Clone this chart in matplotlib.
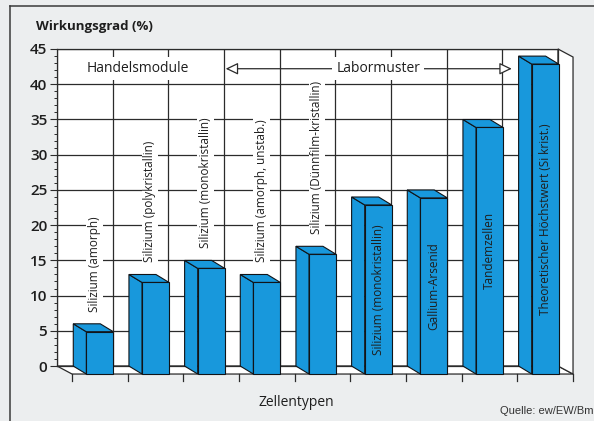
import matplotlib
matplotlib.use("Agg")
import matplotlib.pyplot as plt
from matplotlib.patches import Polygon
from matplotlib.ticker import MultipleLocator

# ---------------- data ----------------
categories = [
    "Silizium (amorph)",
    "Silizium (polykristallin)",
    "Silizium (monokristallin)",
    "Silizium (amorph, unstab.)",
    "Silizium (Dünnfilm-kristallin)",
    "Silizium (monokristallin)",
    "Gallium-Arsenid",
    "Tandemzellen",
    "Theoretischer Höchstwert (Si krist.)",
]
wirkungsgrad = [6, 13, 15, 13, 17, 24, 25, 35, 44]
y_ticks = [0, 5, 10, 15, 20, 25, 30, 35, 40, 45]
group_labels = ["Handelsmodule", "Labormuster"]
y_title = "Wirkungsgrad (%)"
x_title = "Zellentypen"
source_text = "Quelle: ew/EW/Bm"

# ---------------- style ----------------
plt.rcParams["font.family"] = ["Open Sans", "DejaVu Sans"]
PAPER = "#eceeef"
GRID = "#2b2b2b"
BLUE = "#1898dc"
EDGE = "#111418"
TXT = "#1e1e1e"

W, H = 594, 421
fig = plt.figure(figsize=(W / 100, H / 100), dpi=100)
fig.patch.set_facecolor(PAPER)

n = len(categories)
ymax = y_ticks[-1]
ax = fig.add_axes([57 / W, 55 / H, 501 / W, 317 / H])
ax.set_xlim(0, n)
ax.set_ylim(0, ymax)
ax.set_facecolor("white")
ax.set_axisbelow(True)
for s in ax.spines.values():
    s.set_color(GRID)
    s.set_linewidth(0.9)
ax.set_xticks(range(n + 1))
ax.tick_params(axis="x", length=0, labelbottom=False)
ax.set_yticks(y_ticks)
ax.yaxis.set_minor_locator(MultipleLocator(1))
ax.tick_params(axis="y", which="major", length=5, width=0.8, pad=2,
               labelsize=11, colors=GRID, labelcolor=TXT)
ax.tick_params(axis="y", which="minor", length=2.5, width=0.7, colors=GRID)
for lab in ax.get_yticklabels():
    lab.set_fontweight("semibold")
ax.grid(True, which="major", color=GRID, linewidth=0.9)

# oblique depth offsets (data units)
FX, FY = 0.27, 1.14       # floor depth
BX, BY = 0.235, 1.13      # bar depth
BW = 0.485                # bar width

# floor and right side wall
ax.add_patch(Polygon([(0, 0), (n, 0), (n + FX, -FY), (FX, -FY)], closed=True,
                     fc="white", ec=GRID, lw=0.9, clip_on=False, zorder=2))
ax.add_patch(Polygon([(n, 0), (n, ymax), (n + FX, ymax - FY), (n + FX, -FY)],
                     closed=True, fc="white", ec=GRID, lw=0.9, clip_on=False,
                     zorder=2))
for i in range(n + 1):
    ax.plot([i + FX, i + FX], [-FY, -FY - 1.0], color=GRID, lw=0.9,
            clip_on=False, zorder=2)

# bars
for i, (name, v) in enumerate(zip(categories, wirkungsgrad)):
    xl = i + FX + (1 - BW) / 2
    xr = xl + BW
    yb = -FY
    yt = v - FY
    side = [(xl, yb), (xl, yt), (xl - BX, yt + BY), (xl - BX, yb + BY)]
    top = [(xl, yt), (xr, yt), (xr - BX, yt + BY), (xl - BX, yt + BY)]
    front = [(xl, yb), (xr, yb), (xr, yt), (xl, yt)]
    for poly in (side, top, front):
        ax.add_patch(Polygon(poly, closed=True, fc=BLUE, ec=EDGE, lw=0.8,
                             clip_on=False, zorder=3, joinstyle="miter"))
    if v > 20:
        ax.text((xl + xr) / 2, (yb + yt) / 2, name, rotation=90,
                ha="center", va="center", fontsize=8.5, color=TXT, zorder=5)
    else:
        ax.text(i + 0.67, v + 1.7, name, rotation=90, ha="center",
                va="bottom", fontsize=8.5, color=TXT, zorder=5,
                bbox=dict(boxstyle="square,pad=0.15", fc="white", ec="none"))

# header row: Handelsmodule / <-- Labormuster -->
yh = 42.2
ax.annotate("", xy=(3.03, yh), xytext=(8.17, yh),
            arrowprops=dict(arrowstyle="<|-|>,head_length=0.75,head_width=0.36",
                            fc="white", ec=GRID, lw=0.9, shrinkA=0, shrinkB=0,
                            mutation_scale=10),
            zorder=4)
ax.text(1.45, yh, group_labels[0], ha="center", va="center", fontsize=10,
        color=TXT, zorder=5,
        bbox=dict(boxstyle="square,pad=0.3", fc="white", ec="none"))
ax.text(5.77, yh, group_labels[1], ha="center", va="center", fontsize=10,
        color=TXT, zorder=5,
        bbox=dict(boxstyle="square,pad=0.3", fc="white", ec="none"))

# titles
fig.text(36 / W, 1 - 30 / H, y_title, ha="left", va="baseline",
         fontsize=9.5, fontweight="bold", color=TXT)
fig.text(296 / W, 1 - 403 / H, x_title, ha="center", va="center",
         fontsize=10, color=TXT)
fig.text(593 / W, 1 - 411 / H, source_text, ha="right", va="center",
         fontsize=8, color="#333333", family=["Liberation Sans", "DejaVu Sans"])

# page frame
fig.add_artist(plt.Line2D([10 / W, 10 / W], [0, 1 - 6 / H],
                          transform=fig.transFigure, color="#3a3a3a", lw=1.1))
fig.add_artist(plt.Line2D([10 / W, 1], [1 - 6 / H, 1 - 6 / H],
                          transform=fig.transFigure, color="#3a3a3a", lw=1.1))

fig.savefig("out.png", dpi=100, facecolor=PAPER)
